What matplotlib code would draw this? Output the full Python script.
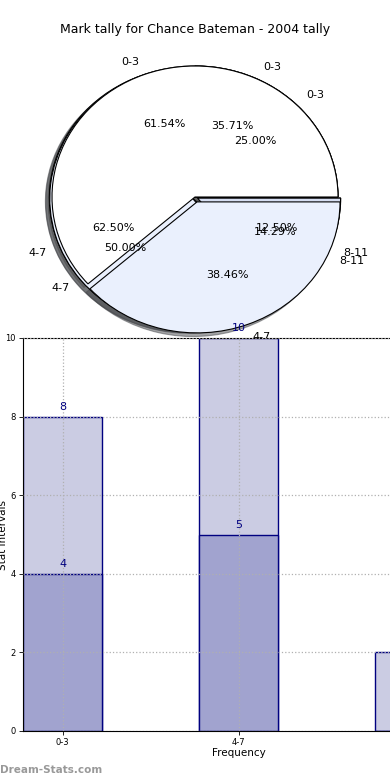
import matplotlib
matplotlib.use("Agg")
import matplotlib.pyplot as plt
import numpy as np

title = "Mark tally for Chance Bateman - 2004 tally"

# pie series (drawn back to front: C, B, A)
pie_a_labels = ["0-3", "4-7"]
pie_a_values = [8, 5]
pie_b_labels = ["0-3", "4-7", "8-11"]
pie_b_values = [5, 7, 2]
pie_c_labels = ["0-3", "4-7", "8-11"]
pie_c_values = [2, 5, 1]

# bar series
categories = ["0-3", "4-7", "8-11"]
bar_back = [8, 10, 2]
bar_front = [4, 5, 0]
y_ticks = [0, 2, 4, 6, 8, 10]

pie_colors = ["#ffffff", "#eaf0fd", "#d6def2"]

fig = plt.figure(figsize=(3.9, 7.8), dpi=100, facecolor="white")
fig.text(0.5, 1 - 30 / 780, title, ha="center", va="center", fontsize=9)

# ---- pie ----
rx, ry, cx, cy = 143, 131, 195, 197
axp = fig.add_axes([(cx - 1.25 * rx) / 390, (780 - cy - 1.25 * ry) / 780,
                    2.5 * rx / 390, 2.5 * ry / 780])
axp.set_zorder(2)
axp.patch.set_alpha(0)
wp = dict(edgecolor="black", linewidth=0.8)
for labels, values, explode in [
    (pie_c_labels, pie_c_values, [0, 0.02, 0.02]),
    (pie_b_labels, pie_b_values, [0, 0.02, 0.02]),
    (pie_a_labels, pie_a_values, [0, 0.04]),
]:
    axp.pie(values, labels=labels, explode=explode, colors=pie_colors[:len(values)],
            autopct="%.2f%%", shadow=True, startangle=0, wedgeprops=wp,
            textprops=dict(fontsize=8))
axp.set_aspect("auto")
axp.set_xlim(-1.25, 1.25)
axp.set_ylim(-1.25, 1.25)
axp.axis("off")

# ---- bars ----
axb = fig.add_axes([23 / 390, (780 - 731) / 780, 431 / 390, 393 / 780])
axb.set_zorder(3)
axb.patch.set_alpha(0)
x = np.arange(len(categories))
w = 0.45
axb.bar(x, bar_back, width=w, color="#cbcce3", edgecolor="#000080", linewidth=1, zorder=2)
axb.bar(x, bar_front, width=w, color="#a1a3cf", edgecolor="#000080", linewidth=1, zorder=2)
for xi, v in zip(x, bar_back):
    axb.text(xi, v + 0.12, str(v), ha="center", va="bottom", color="#000080",
             fontsize=8, clip_on=False)
for xi, v in zip(x, bar_front):
    if v > 0:
        axb.text(xi, v + 0.12, str(v), ha="center", va="bottom", color="#000080",
                 fontsize=8, clip_on=False)
axb.set_xlim(-w / 2, len(categories) - 1 + w / 2)
axb.set_ylim(0, 10)
axb.set_yticks(y_ticks)
axb.set_yticklabels([str(t) for t in y_ticks], fontsize=6)
axb.set_xticks(x)
axb.set_xticklabels(categories, fontsize=6)
axb.tick_params(length=3, width=0.6, pad=2)
axb.grid(True, linestyle=":", color="#b0b0b0", linewidth=0.9, zorder=3)
axb.set_axisbelow(False)
for s in axb.spines.values():
    s.set_linewidth(0.8)
axb.set_xlabel("Frequency", fontsize=7.5, labelpad=1)
axb.set_ylabel("Stat Intervals", fontsize=7.5, va="center")
axb.yaxis.set_label_coords(-20 / 431, 0.5)

fig.text(0.0, 1 - 770 / 780, "Dream-Stats.com", ha="left", va="center",
         fontsize=7.5, color="#999999", fontweight="bold")

fig.savefig("out.png", dpi=100, facecolor="white")
